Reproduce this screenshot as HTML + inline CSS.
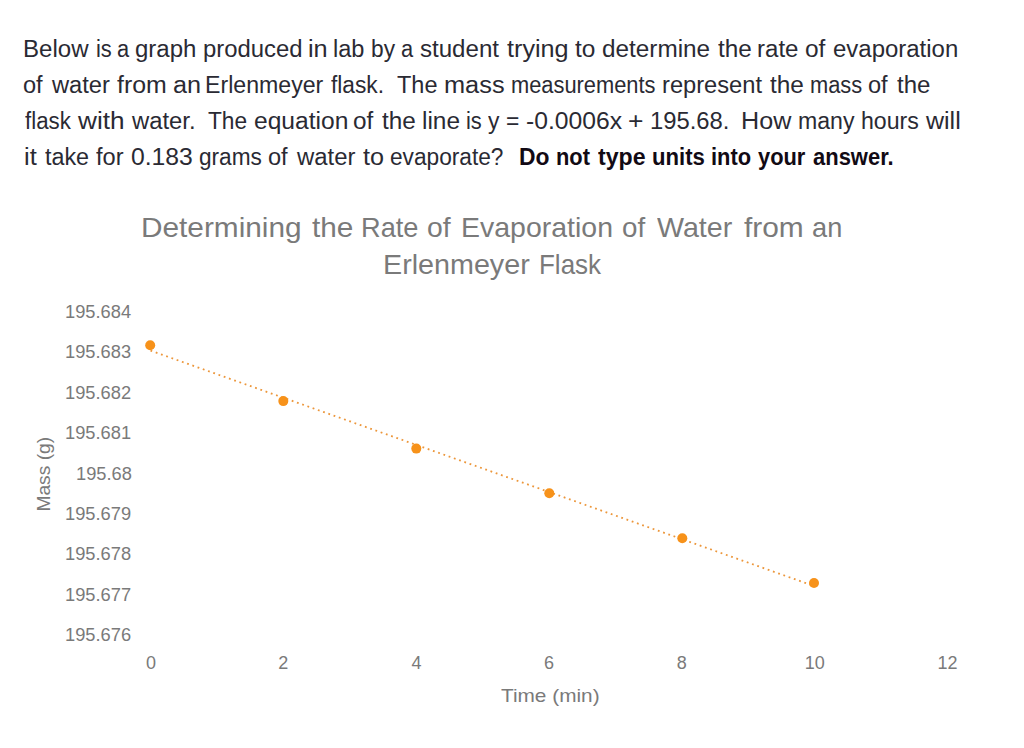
<!DOCTYPE html>
<html><head><meta charset="utf-8">
<style>
html,body{margin:0;padding:0;background:#fff;width:1024px;height:748px;overflow:hidden;position:relative}
.t{position:absolute;left:0;top:0;white-space:nowrap;font-family:"Liberation Sans",sans-serif;transform-origin:0 0}
svg{position:absolute;left:0;top:0}
.t.p{font-size:23px;line-height:23px;color:#2a2a33}
.t.b{font-size:23px;line-height:23px;color:#120a14;font-weight:bold}
.t.c{font-size:28px;line-height:28px;color:#7a7a7a}
</style></head><body>
<svg width="1024" height="748" viewBox="0 0 1024 748">
<line x1="150.5" y1="350.6" x2="814" y2="586" stroke="#EC963A" stroke-width="1.8" stroke-dasharray="1.8 3.75"/>
<g fill="#F7921A">
<circle cx="150.2" cy="345.2" r="5"/>
<circle cx="283.3" cy="401.1" r="5"/>
<circle cx="416.3" cy="448.6" r="5"/>
<circle cx="549.3" cy="493.3" r="5"/>
<circle cx="682.3" cy="538.3" r="5"/>
<circle cx="814" cy="583" r="5"/>
</g>
</svg>
<!--PARA-->
<div class="t p" style="left:22.91px;top:38px;transform:scaleX(1.046)">Below</div>
<div class="t p" style="left:95.65px;top:38px;transform:scaleX(0.950)">is</div>
<div class="t p" style="left:116.95px;top:38px;transform:scaleX(0.950)">a</div>
<div class="t p" style="left:135.26px;top:38px;transform:scaleX(1.044)">graph</div>
<div class="t p" style="left:202.56px;top:38px;transform:scaleX(1.038)">produced</div>
<div class="t p" style="left:307.90px;top:38px;transform:scaleX(1.100)">in</div>
<div class="t p" style="left:333.38px;top:38px;transform:scaleX(1.024)">lab</div>
<div class="t p" style="left:370.91px;top:38px;transform:scaleX(0.987)">by</div>
<div class="t p" style="left:401.45px;top:38px;transform:scaleX(0.950)">a</div>
<div class="t p" style="left:419.75px;top:38px;transform:scaleX(1.047)">student</div>
<div class="t p" style="left:507.10px;top:38px;transform:scaleX(1.096)">trying</div>
<div class="t p" style="left:575.20px;top:38px;transform:scaleX(1.063)">to</div>
<div class="t p" style="left:602.14px;top:38px;transform:scaleX(1.057)">determine</div>
<div class="t p" style="left:717.80px;top:38px;transform:scaleX(1.058)">the</div>
<div class="t p" style="left:757.35px;top:38px;transform:scaleX(1.047)">rate</div>
<div class="t p" style="left:804.94px;top:38px;transform:scaleX(1.063)">of</div>
<div class="t p" style="left:832.96px;top:38px;transform:scaleX(1.042)">evaporation</div>
<div class="t p" style="left:23.37px;top:74px;transform:scaleX(1.026)">of</div>
<div class="t p" style="left:51.70px;top:74px;transform:scaleX(1.029)">water</div>
<div class="t p" style="left:117.10px;top:74px;transform:scaleX(1.082)">from</div>
<div class="t p" style="left:172.50px;top:74px;transform:scaleX(1.096)">an</div>
<div class="t p" style="left:204.59px;top:74px;transform:scaleX(1.006)">Erlenmeyer</div>
<div class="t p" style="left:331.10px;top:74px;transform:scaleX(0.988)">flask.</div>
<div class="t p" style="left:397.00px;top:74px;transform:scaleX(1.021)">The</div>
<div class="t p" style="left:443.50px;top:74px;transform:scaleX(1.102)">mass</div>
<div class="t p" style="left:510.95px;top:74px;transform:scaleX(0.950)">measurements</div>
<div class="t p" style="left:662.17px;top:74px;transform:scaleX(1.029)">represent</div>
<div class="t p" style="left:769.80px;top:74px;transform:scaleX(1.061)">the</div>
<div class="t p" style="left:809.55px;top:74px;transform:scaleX(0.950)">mass</div>
<div class="t p" style="left:868.17px;top:74px;transform:scaleX(1.026)">of</div>
<div class="t p" style="left:896.50px;top:74px;transform:scaleX(1.045)">the</div>
<div class="t p" style="left:25.10px;top:110px;transform:scaleX(0.968)">flask</div>
<div class="t p" style="left:78.40px;top:110px;transform:scaleX(1.137)">with</div>
<div class="t p" style="left:131.70px;top:110px;transform:scaleX(1.035)">water.</div>
<div class="t p" style="left:208.30px;top:110px;transform:scaleX(0.987)">The</div>
<div class="t p" style="left:253.53px;top:110px;transform:scaleX(1.069)">equation</div>
<div class="t p" style="left:353.24px;top:110px;transform:scaleX(1.058)">of</div>
<div class="t p" style="left:382.20px;top:110px;transform:scaleX(1.058)">the</div>
<div class="t p" style="left:421.74px;top:110px;transform:scaleX(1.062)">line</div>
<div class="t p" style="left:465.75px;top:110px;transform:scaleX(0.950)">is</div>
<div class="t p" style="left:487.60px;top:110px;transform:scaleX(0.992)">y</div>
<div class="t p" style="left:506.31px;top:110px;transform:scaleX(0.992)">=</div>
<div class="t p" style="left:525.93px;top:110px;transform:scaleX(1.073)">-0.0006x</div>
<div class="t p" style="left:628.05px;top:110px;transform:scaleX(1.150)">+</div>
<div class="t p" style="left:649.77px;top:110px;transform:scaleX(1.034)">195.68.</div>
<div class="t p" style="left:741.11px;top:110px;transform:scaleX(1.093)">How</div>
<div class="t p" style="left:798.20px;top:110px;transform:scaleX(1.004)">many</div>
<div class="t p" style="left:861.19px;top:110px;transform:scaleX(1.005)">hours</div>
<div class="t p" style="left:926.30px;top:110px;transform:scaleX(1.087)">will</div>
<div class="t p" style="left:23.69px;top:146px;transform:scaleX(1.109)">it</div>
<div class="t p" style="left:44.80px;top:146px;transform:scaleX(1.014)">take</div>
<div class="t p" style="left:96.20px;top:146px;transform:scaleX(1.026)">for</div>
<div class="t p" style="left:130.62px;top:146px;transform:scaleX(1.075)">0.183</div>
<div class="t p" style="left:198.72px;top:146px;transform:scaleX(0.984)">grams</div>
<div class="t p" style="left:268.47px;top:146px;transform:scaleX(1.026)">of</div>
<div class="t p" style="left:296.80px;top:146px;transform:scaleX(1.039)">water</div>
<div class="t p" style="left:362.80px;top:146px;transform:scaleX(1.095)">to</div>
<div class="t p" style="left:390.41px;top:146px;transform:scaleX(0.986)">evaporate?</div>
<div class="t b" style="left:519.21px;top:146px;transform:scaleX(0.993)">Do</div>
<div class="t b" style="left:556.05px;top:146px;transform:scaleX(0.950)">not</div>
<div class="t b" style="left:597.60px;top:146px;transform:scaleX(1.006)">type</div>
<div class="t b" style="left:651.94px;top:146px;transform:scaleX(0.962)">units</div>
<div class="t b" style="left:710.95px;top:146px;transform:scaleX(0.950)">into</div>
<div class="t b" style="left:758.20px;top:146px;transform:scaleX(0.950)">your</div>
<div class="t b" style="left:812.70px;top:146px;transform:scaleX(0.955)">answer.</div>
<div class="t c" style="left:141.37px;top:214px;transform:scaleX(1.064)">Determining</div>
<div class="t c" style="left:311.60px;top:214px;transform:scaleX(1.063)">the</div>
<div class="t c" style="left:361.06px;top:214px;transform:scaleX(0.971)">Rate</div>
<div class="t c" style="left:427.39px;top:214px;transform:scaleX(1.013)">of</div>
<div class="t c" style="left:460.67px;top:214px;transform:scaleX(1.017)">Evaporation</div>
<div class="t c" style="left:622.31px;top:214px;transform:scaleX(0.991)">of</div>
<div class="t c" style="left:657.10px;top:214px;transform:scaleX(1.022)">Water</div>
<div class="t c" style="left:743.70px;top:214px;transform:scaleX(1.067)">from</div>
<div class="t c" style="left:812.43px;top:214px;transform:scaleX(0.972)">an</div>
<div class="t c" style="left:382.95px;top:251px;transform:scaleX(1.025)">Erlenmeyer</div>
<div class="t c" style="left:539.04px;top:251px;transform:scaleX(0.928)">Flask</div>
<!--/PARA-->
<!--TEXT-->
<div class="t" style="left:65.48px;top:303.00px;font-size:18px;line-height:18px;color:#7a7a7a;transform:scaleX(1.0156)">195.684</div>
<div class="t" style="left:65.48px;top:343.00px;font-size:18px;line-height:18px;color:#7a7a7a;transform:scaleX(1.0156)">195.683</div>
<div class="t" style="left:65.48px;top:384.00px;font-size:18px;line-height:18px;color:#7a7a7a;transform:scaleX(1.0156)">195.682</div>
<div class="t" style="left:65.48px;top:424.00px;font-size:18px;line-height:18px;color:#7a7a7a;transform:scaleX(1.0156)">195.681</div>
<div class="t" style="left:75.69px;top:465.00px;font-size:18px;line-height:18px;color:#7a7a7a;transform:scaleX(1.0148)">195.68</div>
<div class="t" style="left:65.48px;top:505.00px;font-size:18px;line-height:18px;color:#7a7a7a;transform:scaleX(1.0156)">195.679</div>
<div class="t" style="left:65.48px;top:545.00px;font-size:18px;line-height:18px;color:#7a7a7a;transform:scaleX(1.0156)">195.678</div>
<div class="t" style="left:65.48px;top:586.00px;font-size:18px;line-height:18px;color:#7a7a7a;transform:scaleX(1.0156)">195.677</div>
<div class="t" style="left:65.48px;top:626.00px;font-size:18px;line-height:18px;color:#7a7a7a;transform:scaleX(1.0156)">195.676</div>
<div class="t" style="left:145.90px;top:653.50px;font-size:18px;line-height:18px;color:#7a7a7a;transform:scaleX(1.0000)">0</div>
<div class="t" style="left:278.26px;top:653.50px;font-size:18px;line-height:18px;color:#7a7a7a;transform:scaleX(1.0000)">2</div>
<div class="t" style="left:411.62px;top:653.50px;font-size:18px;line-height:18px;color:#7a7a7a;transform:scaleX(1.0000)">4</div>
<div class="t" style="left:543.98px;top:653.50px;font-size:18px;line-height:18px;color:#7a7a7a;transform:scaleX(1.0000)">6</div>
<div class="t" style="left:676.84px;top:653.50px;font-size:18px;line-height:18px;color:#7a7a7a;transform:scaleX(1.0000)">8</div>
<div class="t" style="left:804.70px;top:653.50px;font-size:18px;line-height:18px;color:#7a7a7a;transform:scaleX(1.0000)">10</div>
<div class="t" style="left:937.56px;top:653.50px;font-size:18px;line-height:18px;color:#7a7a7a;transform:scaleX(1.0000)">12</div>
<div class="t" style="left:500.50px;top:685.50px;font-size:19px;line-height:19px;color:#7a7a7a;transform:scaleX(1.0944)">Time (min)</div>
<div class="t" style="font-size:19px;line-height:19px;color:#7a7a7a;transform:translate(34.40px,511.61px) rotate(-90deg) scaleX(1.0125)">Mass (g)</div>
<!--/TEXT-->
</body></html>
